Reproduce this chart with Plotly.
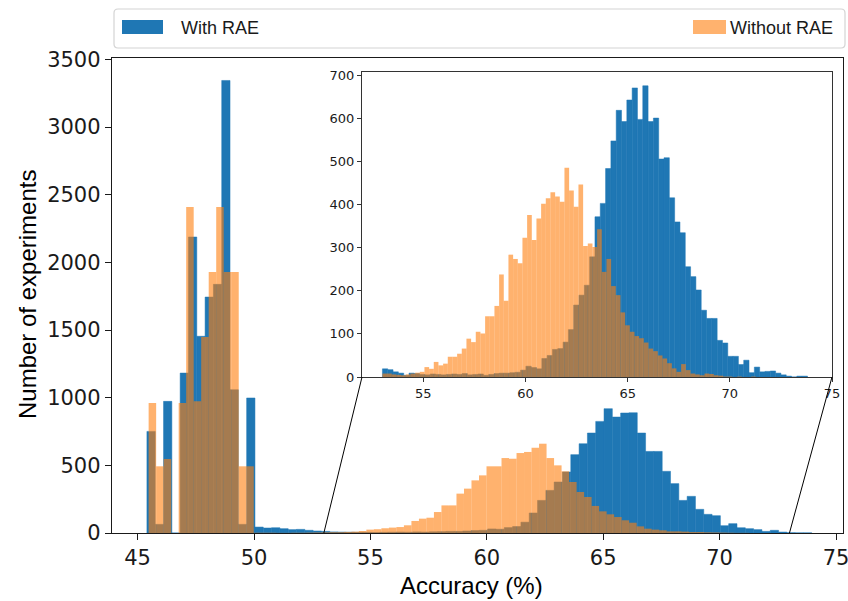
import numpy as np
import plotly.graph_objects as go

W, H = 848, 601

# ---------------- data ----------------
series_names = ["With RAE", "Without RAE"]

# main histogram, "With RAE": first bin edge, bin width, counts per bin
main_blue_start = 45.40
main_blue_width = 0.357
main_blue_counts = [
    751, 64, 973, 0, 1182, 2188, 1454, 1744, 1838, 3345,
    1059, 64, 998, 44, 37, 39, 32, 25, 27, 20,
    15, 12, 8, 7, 6, 5, 5, 4, 5, 6,
    7, 6, 8, 7, 9, 10, 12, 12, 15, 18,
    20, 30, 28, 40, 48, 80, 148, 241, 315, 377,
    451, 579, 660, 739, 825, 919, 857, 887, 889, 739,
    603, 603, 456, 365, 241, 271, 175, 138, 128, 54,
    69, 39, 32, 25, 12, 20, 7, 2, 1, 1,
]

# main histogram, "Without RAE"
main_orange_start = 45.474
main_orange_width = 0.3225
main_orange_counts = [
    961, 493, 547, 0, 961, 2409, 973, 1448, 1929, 2409,
    1929, 1929, 493, 493, 2, 2, 2, 1, 1, 2,
    2, 3, 4, 5, 6, 6, 8, 10, 15, 25,
    28, 35, 40, 44, 57, 89, 106, 113, 155, 204,
    204, 291, 328, 389, 426, 493, 493, 554, 549, 591,
    599, 631, 660, 554, 500, 456, 377, 303, 266, 200,
    160, 138, 118, 94, 76, 49, 32, 25, 20, 12,
    12, 10, 7, 7, 5, 4, 3, 2, 1, 1,
]

# inset histogram, "With RAE"
inset_blue_start = 53.0
inset_blue_width = 0.26
inset_blue_counts = [
    19, 17, 12, 9, 4, 9, 8, 6, 5, 7,
    6, 5, 6, 7, 6, 8, 5, 6, 7, 4,
    6, 8, 9, 9, 10, 11, 16, 25, 22, 19,
    43, 50, 64, 66, 81, 110, 167, 190, 213, 279,
    372, 403, 484, 548, 619, 593, 643, 671, 598, 676,
    593, 601, 506, 509, 416, 360, 335, 256, 233, 202,
    155, 136, 136, 85, 79, 48, 48, 29, 39, 10,
    23, 12, 13, 14, 9, 5, 2, 0, 2, 2,
]

# inset histogram, "Without RAE"
inset_orange_start = 53.0
inset_orange_width = 0.2284
inset_orange_counts = [
    8, 8, 6, 5, 4, 6, 8, 10, 12, 23,
    19, 35, 27, 31, 47, 47, 54, 66, 89, 81,
    105, 101, 141, 141, 165, 238, 177, 284, 274, 264,
    323, 376, 318, 368, 402, 415, 429, 419, 407, 486,
    433, 395, 447, 304, 310, 302, 343, 244, 274, 211,
    190, 150, 120, 105, 95, 90, 80, 66, 60, 50,
    43, 32, 20, 12, 30, 16, 8, 6, 4, 8,
    7, 4, 3, 1, 1, 0, 1, 0, 0, 1,
]

main_xticks = [45, 50, 55, 60, 65, 70, 75]
main_yticks = [0, 500, 1000, 1500, 2000, 2500, 3000, 3500]
inset_xticks = [55, 60, 65, 70, 75]
inset_yticks = [0, 100, 200, 300, 400, 500, 600, 700]
zoom_window = [53, 73]

x_label = "Accuracy (%)"
y_label = "Number of experiments"

# ---------------- styles / layout ----------------
BLUE = "#1f77b4"
ORANGE = "rgba(255,127,14,0.6)"
ORANGE_LEG = "#ffb26e"

def px_x(p):
    return p / W

def px_y(p):
    return 1 - p / H

main_dom_x = [px_x(112), px_x(843)]
main_dom_y = [px_y(533), px_y(58)]
main_rng_x = [43.9, 75.3]
main_rng_y = [0, 3511]

ins_dom_x = [px_x(362), px_x(832)]
ins_dom_y = [px_y(377), px_y(72)]
ins_rng_x = [52, 75]
ins_rng_y = [0, 708]


def centers(start, width, n):
    return start + width * (np.arange(n) + 0.5)


fig = go.Figure()

def add_hist(start, width, counts, color, xa, ya, seam=0):
    fig.add_trace(go.Bar(
        x=centers(start, width, len(counts)), y=counts, width=width,
        marker=dict(color=color, line=dict(width=seam, color=color)),
        xaxis=xa, yaxis=ya, showlegend=False, hoverinfo="skip",
    ))

add_hist(main_blue_start, main_blue_width, main_blue_counts, BLUE, "x", "y", 0.5)
add_hist(main_orange_start, main_orange_width, main_orange_counts, ORANGE, "x", "y")
add_hist(inset_blue_start, inset_blue_width, inset_blue_counts, BLUE, "x2", "y2", 0.5)
add_hist(inset_orange_start, inset_orange_width, inset_orange_counts, ORANGE, "x2", "y2")

axis_common = dict(
    showgrid=False, zeroline=False, showline=True, mirror=True,
    ticks="outside", automargin=False, ticklabeloverflow="allow",
)

main_font = dict(family="DejaVu Sans", size=21, color="#1a1a1a")
ins_font = dict(family="DejaVu Sans", size=13, color="#1a1a1a")

fig.update_layout(
    width=W, height=H, autosize=False,
    margin=dict(l=0, r=0, t=0, b=0, pad=0, autoexpand=False),
    paper_bgcolor="white", plot_bgcolor="white",
    barmode="overlay",
    showlegend=False,
    xaxis=dict(domain=main_dom_x, range=main_rng_x, anchor="y",
               tickvals=main_xticks, ticktext=[str(v) for v in main_xticks],
               ticklen=6, tickwidth=1.3, tickcolor="#1a1a1a",
               linecolor="#1a1a1a", linewidth=1.4, tickfont=main_font,
               **axis_common),
    yaxis=dict(domain=main_dom_y, range=main_rng_y, anchor="x",
               tickvals=main_yticks, ticktext=[str(v) for v in main_yticks],
               ticklen=6, tickwidth=1.3, tickcolor="#1a1a1a",
               linecolor="#1a1a1a", linewidth=1.4, tickfont=main_font,
               **axis_common),
    xaxis2=dict(domain=ins_dom_x, range=ins_rng_x, anchor="y2",
                tickvals=inset_xticks, ticktext=[str(v) for v in inset_xticks],
                ticklen=4, tickwidth=1, tickcolor="#333",
                linecolor="#333", linewidth=1, tickfont=ins_font,
                **axis_common),
    yaxis2=dict(domain=ins_dom_y, range=ins_rng_y, anchor="x2",
                tickvals=inset_yticks, ticktext=[str(v) for v in inset_yticks],
                ticklen=4, tickwidth=1, tickcolor="#333",
                linecolor="#333", linewidth=1, tickfont=ins_font,
                **axis_common),
)

# ---------------- connector lines (zoom window -> inset corners) ----------------
def main_x_to_paper(v):
    f = (v - main_rng_x[0]) / (main_rng_x[1] - main_rng_x[0])
    return main_dom_x[0] + f * (main_dom_x[1] - main_dom_x[0])

base_y = main_dom_y[0]
fig.add_shape(type="line", xref="paper", yref="paper",
              x0=main_x_to_paper(zoom_window[0]), y0=base_y,
              x1=ins_dom_x[0], y1=ins_dom_y[0],
              line=dict(color="black", width=1))
fig.add_shape(type="line", xref="paper", yref="paper",
              x0=main_x_to_paper(zoom_window[1]), y0=base_y,
              x1=ins_dom_x[1], y1=ins_dom_y[0],
              line=dict(color="black", width=1))

# ---------------- manual legend (matplotlib "expand" style) ----------------
lx0, lx1, ly0, ly1 = px_x(114), px_x(845), px_y(48), px_y(9)
rx, ry = 4 / W, 4 / H
path = (f"M {lx0+rx},{ly0} L {lx1-rx},{ly0} Q {lx1},{ly0} {lx1},{ly0+ry} "
        f"L {lx1},{ly1-ry} Q {lx1},{ly1} {lx1-rx},{ly1} "
        f"L {lx0+rx},{ly1} Q {lx0},{ly1} {lx0},{ly1-ry} "
        f"L {lx0},{ly0+ry} Q {lx0},{ly0} {lx0+rx},{ly0} Z")
fig.add_shape(type="path", path=path, xref="paper", yref="paper",
              fillcolor="white", line=dict(color="#d4d4d4", width=1.2))
fig.add_shape(type="rect", xref="paper", yref="paper",
              x0=px_x(122), x1=px_x(163), y0=px_y(34), y1=px_y(20),
              fillcolor=BLUE, line=dict(width=0))
fig.add_shape(type="rect", xref="paper", yref="paper",
              x0=px_x(693), x1=px_x(726), y0=px_y(34), y1=px_y(20),
              fillcolor=ORANGE_LEG, line=dict(width=0))

leg_font = dict(family="Liberation Sans", size=18, color="#1a1a1a")
fig.add_annotation(text=series_names[0], xref="paper", yref="paper",
                   x=px_x(179), y=px_y(28), xanchor="left", yanchor="middle",
                   showarrow=False, font=leg_font)
fig.add_annotation(text=series_names[1], xref="paper", yref="paper",
                   x=px_x(728), y=px_y(28), xanchor="left", yanchor="middle",
                   showarrow=False, font=leg_font)

# ---------------- axis labels ----------------
lab_font = dict(family="Liberation Sans", size=24, color="black")
fig.add_annotation(text=y_label, xref="paper", yref="paper",
                   x=px_x(27), y=px_y(295), xanchor="center", yanchor="middle",
                   textangle=-90, showarrow=False, font=lab_font)
fig.add_annotation(text=x_label, xref="paper", yref="paper",
                   x=px_x(471), y=px_y(585), xanchor="center", yanchor="middle",
                   showarrow=False, font=lab_font)

fig.write_html("out.html")
